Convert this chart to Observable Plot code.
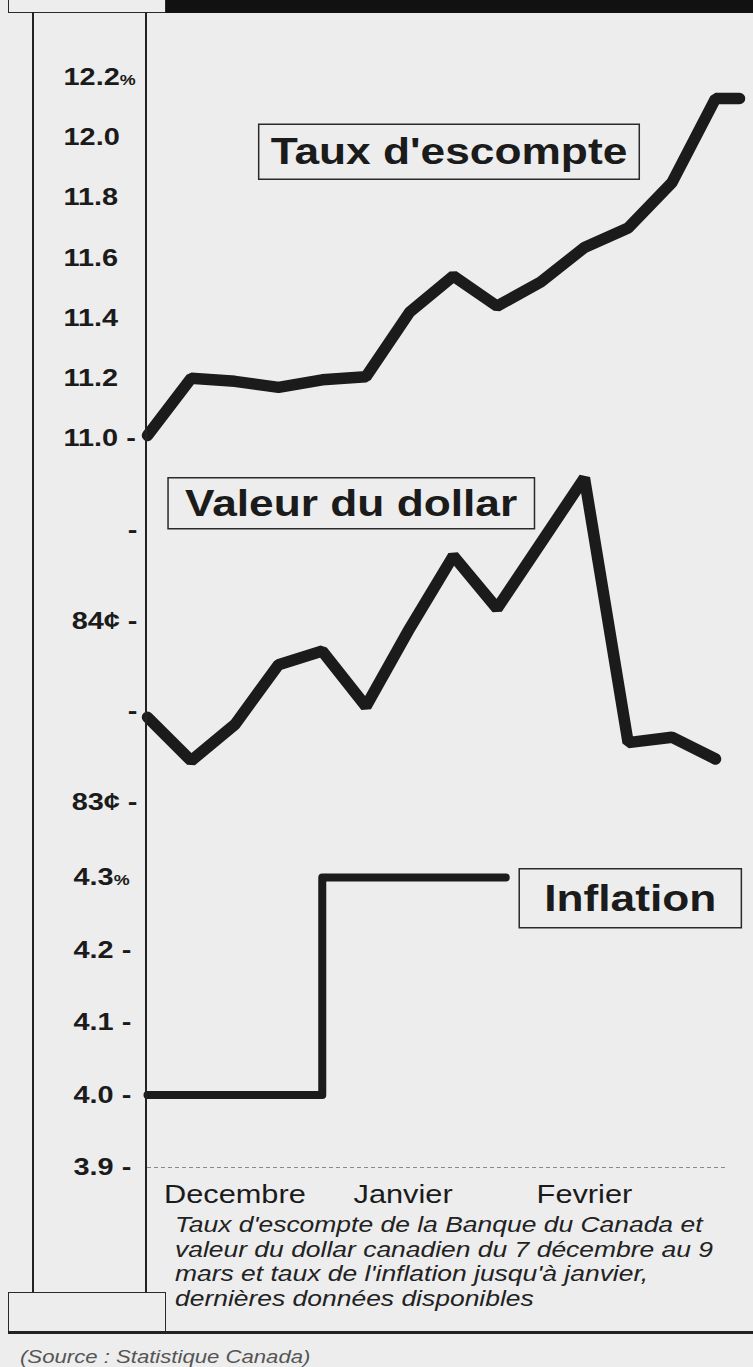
<!DOCTYPE html>
<html>
<head>
<meta charset="utf-8">
<script src="https://cdn.jsdelivr.net/npm/d3@7"></script>
<script src="https://cdn.jsdelivr.net/npm/@observablehq/plot@0.6"></script>
<style>
  html, body { margin: 0; padding: 0; background: #ededed; }
  #chart { position: relative; width: 753px; height: 1367px; overflow: hidden; background: #ededed;
           font-family: "Liberation Sans", Arial, Helvetica, sans-serif; color: #1b1b1b; }
  .abs { position: absolute; }
  .line { position: absolute; background: #222; }
  .box { position: absolute; border: 1.5px solid #2a2a2a; box-sizing: border-box; background: #ededed; }
  .stretch { transform: scaleX(1.23); transform-origin: left top; white-space: nowrap; }
</style>
</head>
<body>
<div id="chart"></div>
<script>
// ---------------- data ----------------
const semaines = [0, 1, 2, 3, 4, 5, 6, 7, 8, 9, 10, 11, 12, 13];
const tauxSemaines = [0, 1, 2, 3, 4, 5, 6, 7, 8, 9, 10, 11, 12, 13, 13.55];
const tauxEscompte = [11.01, 11.20, 11.19, 11.17, 11.195, 11.205, 11.42, 11.54, 11.44, 11.52, 11.635, 11.70, 11.85, 12.13, 12.13];
const valeurDollar = [83.47, 83.23, 83.43, 83.76, 83.835, 83.53, 83.96, 84.36, 84.07, 84.43, 84.79, 83.33, 83.36, 83.24];
const inflationSemaines = [0, 4, 8.2];
const inflation = [4.0, 4.3, 4.3];

const tauxTicks = [11.0, 11.2, 11.4, 11.6, 11.8, 12.0, 12.2];
const tauxTickLabels = ["11.0 -", "11.2", "11.4", "11.6", "11.8", "12.0", "12.2%"];
const dollarTicks = [83, 83.5, 84, 84.5];
const dollarTickLabels = ["83¢ -", "-", "84¢ -", "-"];
const inflationTicks = [3.9, 4.0, 4.1, 4.2, 4.3];
const inflationTickLabels = ["3.9 -", "4.0 -", "4.1 -", "4.2 -", "4.3%"];

const mois = ["Decembre", "Janvier", "Fevrier"];
const moisSemaines = [2.0, 5.85, 10.0];
const etiquettes = ["Taux d'escompte", "Valeur du dollar", "Inflation"];
const legende = [
  "Taux d'escompte de la Banque du Canada et",
  "valeur du dollar canadien du 7 décembre au 9",
  "mars et taux de l'inflation jusqu'à janvier,",
  "dernières données disponibles"
];
const source = "(Source : Statistique Canada)";

// ---------------- setup ----------------
const SX = 1.23;              // horizontal stretch of the printed lettering
const ink = "#1b1b1b";
const font = "'Liberation Sans', Arial, Helvetica, sans-serif";
const chart = document.getElementById("chart");
// box padding around each series label: [horizontal, vertical]
const boxPad = new Map([["Taux d'escompte", [12, 7]], ["Valeur du dollar", [17, 5]], ["Inflation", [25, 9]]]);

const tauxData = tauxSemaines.map((s, i) => ({semaine: s, valeur: tauxEscompte[i]}));
const dollarData = semaines.map((s, i) => ({semaine: s, valeur: valeurDollar[i]}));
const inflationData = inflationSemaines.map((s, i) => ({semaine: s, valeur: inflation[i]}));

const mapOf = (ticks, labels) => new Map(ticks.map((t, i) => [t, labels[i]]));
const tauxLab = mapOf(tauxTicks, tauxTickLabels);
const dollarLab = mapOf(dollarTicks, dollarTickLabels);
const inflLab = mapOf(inflationTicks, inflationTickLabels);

const common = {
  width: 753,
  marginLeft: 147,
  marginRight: 38,
  x: {domain: [0, 13], axis: null},
  style: {background: "transparent", fontFamily: font, color: ink, overflow: "visible"}
};

function place(svg, top) {
  const wrap = document.createElement("div");
  wrap.className = "abs";
  wrap.style.left = "0px";
  wrap.style.top = top + "px";
  wrap.appendChild(svg);
  chart.appendChild(wrap);
  return svg;
}

const pA = Plot.plot({
  ...common, height: 458, marginTop: 65, marginBottom: 32,
  y: {domain: [11.0, 12.2]},
  marks: [
    Plot.axisY({ticks: tauxTicks, tickFormat: d => tauxLab.get(d), tickSize: 0, tickPadding: 84,
                textAnchor: "start", fontSize: 23.5, fontWeight: "bold", label: null}),
    Plot.line(tauxData, {x: "semaine", y: "valeur", stroke: ink, strokeWidth: 11.5, strokeLinejoin: "miter"}),
    Plot.text([etiquettes[0]], {x: 6.9, y: 11.95, fontSize: 36, fontWeight: "bold", fill: ink})
  ]
});

const pB = Plot.plot({
  ...common, height: 370, marginTop: 60, marginBottom: 38,
  y: {domain: [83, 84.5]},
  marks: [
    Plot.axisY({ticks: dollarTicks, tickFormat: d => dollarLab.get(d), tickSize: 0, tickPadding: 10,
                textAnchor: "end", fontSize: 23.5, fontWeight: "bold", label: null}),
    Plot.line(dollarData, {x: "semaine", y: "valeur", stroke: ink, strokeWidth: 11.5, strokeLinejoin: "miter"}),
    Plot.text([etiquettes[1]], {x: 4.66, y: 84.645, fontSize: 36, fontWeight: "bold", fill: ink})
  ]
});

const pC = Plot.plot({
  ...common, height: 380, marginTop: 37, marginBottom: 53,
  y: {domain: [3.9, 4.3]},
  marks: [
    Plot.ruleY([3.9], {x1: 0, x2: 13.25, stroke: "#8a8a8a", strokeWidth: 1, strokeDasharray: "4,3"}),
    Plot.axisY({ticks: inflationTicks, tickFormat: d => inflLab.get(d), tickSize: 0, tickPadding: 74,
                textAnchor: "start", fontSize: 23.5, fontWeight: "bold", label: null}),
    Plot.line(inflationData, {x: "semaine", y: "valeur", curve: "step-after", stroke: ink, strokeWidth: 8}),
    Plot.text([etiquettes[2]], {x: 11.05, y: 4.27, fontSize: 36, fontWeight: "bold", fill: ink}),
    Plot.text(mois, {x: (d, i) => moisSemaines[i], frameAnchor: "bottom", dy: 35, fontSize: 25, fill: ink})
  ]
});

place(pA, 12);
place(pB, 470);
place(pC, 840);

// ---------------- typographic post-processing ----------------
function finishTexts(svg) {
  d3.select(svg).selectAll("text").each(function () {
    const s = this.textContent;
    if (s.endsWith("%")) {
      this.textContent = s.slice(0, -1);
      d3.select(this).append("tspan").attr("font-size", "0.62em").text("%");
    }
    const t = this.getAttribute("transform");
    if (t) this.setAttribute("transform", t + ` scale(${SX},1)`);
    else {
      const x = +this.getAttribute("x") || 0, y = +this.getAttribute("y") || 0;
      this.removeAttribute("x"); this.removeAttribute("y");
      this.setAttribute("transform", `translate(${x},${y}) scale(${SX},1)`);
    }
    if (boxPad.has(this.textContent)) {
      const [px, py] = boxPad.get(this.textContent);
      const b = this.getBBox();
      const padX = px / SX;
      const r = document.createElementNS("http://www.w3.org/2000/svg", "rect");
      r.setAttribute("x", b.x - padX);
      r.setAttribute("y", b.y - py);
      r.setAttribute("width", b.width + 2 * padX);
      r.setAttribute("height", b.height + 2 * py);
      r.setAttribute("fill", "none");
      r.setAttribute("stroke", "#2a2a2a");
      r.setAttribute("stroke-width", 1.5);
      r.setAttribute("vector-effect", "non-scaling-stroke");
      r.setAttribute("transform", this.getAttribute("transform"));
      this.parentNode.insertBefore(r, this);
    }
  });
}
[pA, pB, pC].forEach(finishTexts);

// ---------------- frame decorations ----------------
function div(cls, css, html) {
  const d = document.createElement("div");
  d.className = cls;
  Object.assign(d.style, css);
  if (html) d.innerHTML = html;
  chart.appendChild(d);
  return d;
}
div("line", {left: "165px", top: "0px", width: "588px", height: "13px", background: "#111"});
div("box", {left: "8px", top: "-2px", width: "158px", height: "15px"});
div("line", {left: "32px", top: "12px", width: "2px", height: "1281px"});
div("line", {left: "145px", top: "12px", width: "2px", height: "1281px"});
div("box", {left: "8px", top: "1292px", width: "158px", height: "41px"});
div("line", {left: "8px", top: "1331px", width: "745px", height: "3px"});

const cap = div("abs stretch", {left: "175px", top: "1213px", fontStyle: "italic", fontSize: "21.5px",
  lineHeight: "24.5px", color: "#222"});
legende.forEach(l => { const p = document.createElement("div"); p.textContent = l; cap.appendChild(p); });

const src = div("abs stretch", {left: "20px", top: "1346px", fontStyle: "italic", fontSize: "18px",
  lineHeight: "22px", color: "#555"});
src.textContent = source;
</script>
</body>
</html>
